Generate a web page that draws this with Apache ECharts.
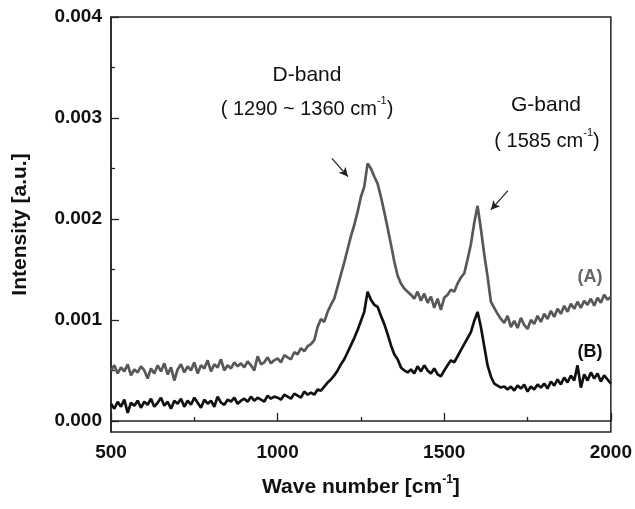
<!DOCTYPE html>
<html>
<head>
<meta charset="utf-8">
<script src="https://cdn.jsdelivr.net/npm/echarts@6/dist/echarts.min.js"></script>
<style>
  html, body { margin: 0; padding: 0; background: #fff; }
  #chart { width: 635px; height: 509px; }
</style>
</head>
<body>
<div id="chart"></div>
<script>
// wave numbers, 500..2000 step 10
var waveNumbers = []
for (var w = 500; w <= 2000; w += 10) waveNumbers.push(w)

// spectrum (A), grey
var intensityA = [
  0.00050, 0.00055, 0.00047, 0.00053, 0.00049, 0.00056, 0.00045, 0.00051, 0.00048, 0.00054,
  0.00050, 0.00042, 0.00052, 0.00047, 0.00055, 0.00049, 0.00057, 0.00046, 0.00053, 0.00040,
  0.00051, 0.00056, 0.00048, 0.00054, 0.00050, 0.00058, 0.00047, 0.00055, 0.00052, 0.00060,
  0.00049, 0.00056, 0.00053, 0.00061, 0.00050, 0.00055, 0.00052, 0.00058, 0.00054, 0.00057,
  0.00053, 0.00059, 0.00055, 0.00050, 0.00064, 0.00056, 0.00058, 0.00063, 0.00057, 0.00060,
  0.00062, 0.00058, 0.00065, 0.00063, 0.00061, 0.00068, 0.00066, 0.00072, 0.00069, 0.00074,
  0.00076, 0.00080, 0.00093, 0.00101, 0.00098, 0.00108, 0.00115, 0.00121, 0.00133, 0.00145,
  0.00157, 0.00170, 0.00183, 0.00194, 0.00207, 0.00222, 0.00232, 0.00255, 0.00250, 0.00242,
  0.00235, 0.00222, 0.00207, 0.00191, 0.00175, 0.00158, 0.00144, 0.00136, 0.00131, 0.00128,
  0.00125, 0.00121, 0.00128, 0.00119, 0.00126, 0.00117, 0.00123, 0.00112, 0.00121, 0.00110,
  0.00122, 0.00125, 0.00130, 0.00128, 0.00136, 0.00142, 0.00146, 0.00160, 0.00175, 0.00196,
  0.00213, 0.00190, 0.00165, 0.00143, 0.00118, 0.00112, 0.00106, 0.00101, 0.00097, 0.00104,
  0.00093, 0.00099, 0.00092, 0.00102, 0.00095, 0.00091, 0.00100, 0.00096, 0.00104, 0.00098,
  0.00106, 0.00101, 0.00109, 0.00103, 0.00111, 0.00106, 0.00114, 0.00108, 0.00116, 0.00111,
  0.00118, 0.00112, 0.00119, 0.00115, 0.00121, 0.00114, 0.00122, 0.00117, 0.00125, 0.00120,
  0.00123
]

// spectrum (B), black
var intensityB = [
  0.00017, 0.00012, 0.00019, 0.00014, 0.00021, 0.00008, 0.00018, 0.00015, 0.00020, 0.00013,
  0.00019, 0.00016, 0.00022, 0.00014, 0.00018, 0.00023, 0.00015, 0.00019, 0.00012, 0.00020,
  0.00017, 0.00022, 0.00014, 0.00020, 0.00016, 0.00023, 0.00018, 0.00013, 0.00021, 0.00017,
  0.00020, 0.00014, 0.00024, 0.00018, 0.00016, 0.00021, 0.00019, 0.00023, 0.00017, 0.00020,
  0.00022, 0.00019, 0.00024, 0.00020, 0.00023, 0.00021, 0.00019, 0.00025, 0.00022, 0.00024,
  0.00023, 0.00021, 0.00026, 0.00024, 0.00022, 0.00027, 0.00025, 0.00023, 0.00029, 0.00026,
  0.00028, 0.00026, 0.00031, 0.00030, 0.00034, 0.00038, 0.00041, 0.00045, 0.00050, 0.00056,
  0.00061, 0.00068, 0.00075, 0.00082, 0.00090, 0.00099, 0.00108, 0.00128, 0.00120, 0.00115,
  0.00113, 0.00104, 0.00096, 0.00086, 0.00075, 0.00066, 0.00061, 0.00053, 0.00050, 0.00048,
  0.00051, 0.00047, 0.00054, 0.00049, 0.00055, 0.00050, 0.00047, 0.00052, 0.00046, 0.00044,
  0.00050, 0.00055, 0.00060, 0.00058, 0.00064, 0.00070, 0.00076, 0.00082, 0.00088, 0.00099,
  0.00108, 0.00093, 0.00074, 0.00055, 0.00044, 0.00037, 0.00035, 0.00033, 0.00034, 0.00031,
  0.00034, 0.00030, 0.00035, 0.00032, 0.00036, 0.00029, 0.00034, 0.00031, 0.00036, 0.00033,
  0.00037, 0.00032, 0.00039, 0.00035, 0.00041, 0.00036, 0.00043, 0.00038, 0.00045, 0.00040,
  0.00055, 0.00033, 0.00046, 0.00040, 0.00048, 0.00042, 0.00047, 0.00039, 0.00045, 0.00041,
  0.00037
]

var yTicks = [0, 0.001, 0.002, 0.003, 0.004]
var yMinorTicks = [0.0005, 0.0015, 0.0025, 0.0035]

// arrows pointing at the two bands [from, to]
var arrowD = [[1163, 0.00260], [1211, 0.00242]]
var arrowG = [[1691, 0.00228], [1640, 0.00209]]

function pairs(xs, ys) {
  return xs.map(function (x, i) { return [x, ys[i]] })
}

var font = 'Liberation Sans, Arial, sans-serif'
var chart = echarts.init(document.getElementById('chart'))

chart.setOption({
  animation: false,
  backgroundColor: '#fff',
  grid: {
    left: 111, right: 23, top: 17, bottom: 77,
    show: true, borderColor: '#222', borderWidth: 1.5, backgroundColor: 'transparent'
  },
  xAxis: {
    type: 'value', min: 500, max: 2000, interval: 500,
    name: '{a|Wave number [cm}{s|-1}{a|]}',
    nameLocation: 'middle', nameGap: 42,
    nameTextStyle: {
      rich: {
        a: { fontFamily: font, fontWeight: 'bold', fontSize: 21, color: '#111', verticalAlign: 'bottom', lineHeight: 24 },
        s: { fontFamily: font, fontWeight: 'bold', fontSize: 12, color: '#111', verticalAlign: 'top', lineHeight: 24 }
      }
    },
    axisLine: { lineStyle: { color: '#222', width: 1.5 } },
    axisTick: { inside: true, length: 8, lineStyle: { color: '#222', width: 1.3 } },
    minorTick: { show: true, splitNumber: 2, length: 4, lineStyle: { color: '#222', width: 1.3 } },
    splitLine: { show: false },
    axisLabel: {
      fontFamily: font, fontWeight: 'bold', fontSize: 19, color: '#111', margin: 11,
      formatter: function (v) { return String(v) }
    }
  },
  yAxis: [{
    type: 'value', min: -0.00011, max: 0.004,
    name: 'Intensity [a.u.]',
    nameLocation: 'middle', nameGap: 80,
    nameTextStyle: { fontFamily: font, fontWeight: 'bold', fontSize: 21, color: '#111' },
    axisLine: { show: true, lineStyle: { color: '#222', width: 1.5 } },
    axisTick: { show: true, inside: true, length: 8, customValues: yTicks, lineStyle: { color: '#222', width: 1.3 } },
    splitLine: { show: false },
    axisLabel: {
      customValues: yTicks, fontFamily: font, fontWeight: 'bold', fontSize: 19, color: '#111', margin: 9,
      formatter: function (v) { return v.toFixed(3) }
    }
  }, {
    type: 'value', min: -0.00011, max: 0.004, position: 'left', offset: 0,
    axisLine: { show: false },
    axisTick: { show: true, inside: true, length: 4, customValues: yMinorTicks, lineStyle: { color: '#222', width: 1.3 } },
    axisLabel: { show: false },
    splitLine: { show: false }
  }],
  series: [{
    name: '(A)', type: 'line', showSymbol: false, symbol: 'none',
    data: pairs(waveNumbers, intensityA),
    lineStyle: { color: '#585858', width: 2.7 },
    markLine: {
      silent: true, symbol: ['none', 'arrow'], symbolSize: [7, 9],
      label: { show: false },
      lineStyle: { color: '#222', width: 1.2, type: 'solid' },
      data: [
        [{ coord: arrowD[0] }, { coord: arrowD[1] }],
        [{ coord: arrowG[0] }, { coord: arrowG[1] }]
      ]
    }
  }, {
    name: '(B)', type: 'line', showSymbol: false, symbol: 'none',
    data: pairs(waveNumbers, intensityB),
    lineStyle: { color: '#111', width: 2.7 }
  }],
  graphic: [
    { type: 'text', x: 307, y: 75, style: { text: 'D-band', font: '21px ' + font, fill: '#111', align: 'center', verticalAlign: 'middle' } },
    { type: 'text', x: 307, y: 107, style: {
      text: '{a|( 1290 ~ 1360 cm}{s|-1}{a|)}', align: 'center', verticalAlign: 'middle',
      rich: {
        a: { fontFamily: font, fontSize: 20, fill: '#111', verticalAlign: 'bottom', lineHeight: 24 },
        s: { fontFamily: font, fontSize: 11, fill: '#111', verticalAlign: 'top', lineHeight: 24 }
      }
    } },
    { type: 'text', x: 546, y: 105, style: { text: 'G-band', font: '21px ' + font, fill: '#111', align: 'center', verticalAlign: 'middle' } },
    { type: 'text', x: 547, y: 139, style: {
      text: '{a|( 1585 cm}{s|-1}{a|)}', align: 'center', verticalAlign: 'middle',
      rich: {
        a: { fontFamily: font, fontSize: 20, fill: '#111', verticalAlign: 'bottom', lineHeight: 24 },
        s: { fontFamily: font, fontSize: 11, fill: '#111', verticalAlign: 'top', lineHeight: 24 }
      }
    } },
    { type: 'text', x: 590, y: 277, style: { text: '(A)', font: 'bold 18px ' + font, fill: '#666', align: 'center', verticalAlign: 'middle' } },
    { type: 'text', x: 590, y: 352, style: { text: '(B)', font: 'bold 18px ' + font, fill: '#111', align: 'center', verticalAlign: 'middle' } }
  ]
})
</script>
</body>
</html>
